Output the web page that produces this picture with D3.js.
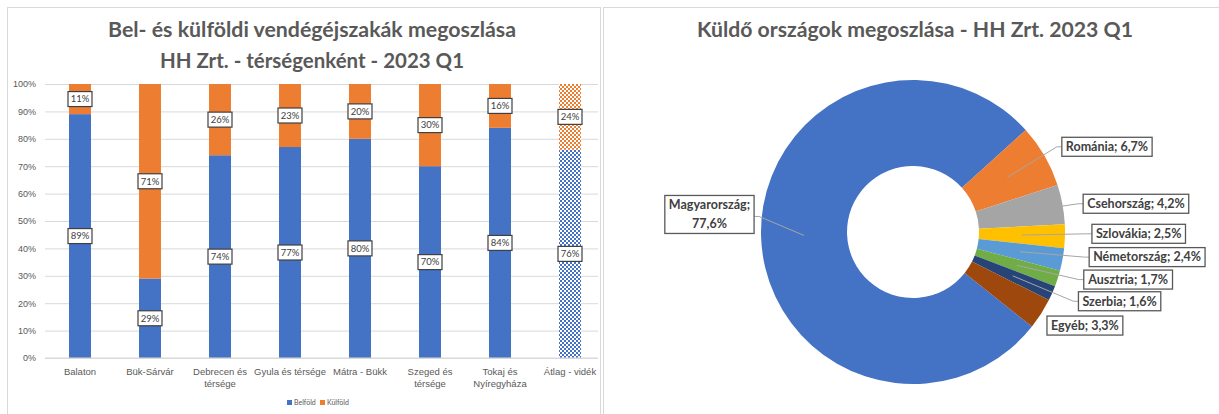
<!DOCTYPE html>
<meta charset="utf-8">
<style>
  body { margin: 0; background: #fff; }
  svg { font-family: Lato, "Open Sans", sans-serif; }
  .tick line { stroke: #d9d9d9; }
  .tick text { fill: #595959; }
</style>
<body>
<div id="chart"></div>
<script src="https://d3js.org/d3.v7.min.js"></script>
<script>

// bar chart data
var regions = ["Balaton", "Bük-Sárvár", "Debrecen és\ntérsége", "Gyula és térsége", "Mátra - Bükk",
               "Szeged és\ntérsége", "Tokaj és\nNyíregyháza", "Átlag - vidék"];
var belfold = [0.89, 0.29, 0.74, 0.77, 0.80, 0.70, 0.84, 0.76];
var kulfold = [0.11, 0.71, 0.26, 0.23, 0.20, 0.30, 0.16, 0.24];
var yTicks = [0, 0.1, 0.2, 0.3, 0.4, 0.5, 0.6, 0.7, 0.8, 0.9, 1];

// donut data
var countries = ["Magyarország", "Románia", "Csehország", "Szlovákia", "Németország", "Ausztria", "Szerbia", "Egyéb"];
var shares = [77.6, 6.7, 4.2, 2.5, 2.4, 1.7, 1.6, 3.3];
var pieColors = ["#4472c4", "#ed7d31", "#a5a5a5", "#ffc000", "#5b9bd5", "#70ad47", "#264478", "#9e480e"];

var W = 1219, H = 414;
var svg = d3.select("#chart").append("svg")
  .attr("width", W).attr("height", H);

// checkerboard patterns for the average bar
var defs = svg.append("defs");
[["chkBlue", "#4472c4"], ["chkOrange", "#ed7d31"]].forEach(function(p) {
  var pat = defs.append("pattern").attr("id", p[0])
    .attr("width", 4).attr("height", 4).attr("patternUnits", "userSpaceOnUse");
  pat.append("rect").attr("width", 4).attr("height", 4).attr("fill", "#fff");
  pat.append("rect").attr("width", 2).attr("height", 2).attr("fill", p[1]);
  pat.append("rect").attr("x", 2).attr("y", 2).attr("width", 2).attr("height", 2).attr("fill", p[1]);
});

// panel frames
svg.append("rect").attr("x", 7.5).attr("y", 7.5).attr("width", 593).attr("height", 420)
  .attr("fill", "none").attr("stroke", "#d9d9d9");
svg.append("rect").attr("x", 603.5).attr("y", 7.5).attr("width", 640).attr("height", 420)
  .attr("fill", "none").attr("stroke", "#d9d9d9");

//////////////////// left: stacked bars

var left = svg.append("g");

left.append("text").attr("x", 312).attr("y", 37)
  .attr("text-anchor", "middle").attr("font-size", 20).attr("font-weight", "bold")
  .attr("fill", "#595959").attr("textLength", 408).attr("lengthAdjust", "spacingAndGlyphs")
  .text("Bel- és külföldi vendégéjszakák megoszlása");
left.append("text").attr("x", 312).attr("y", 68)
  .attr("text-anchor", "middle").attr("font-size", 20).attr("font-weight", "bold")
  .attr("fill", "#595959").attr("textLength", 304).attr("lengthAdjust", "spacingAndGlyphs")
  .text("HH Zrt. - térségenként - 2023 Q1");

var x = d3.scaleBand()
  .domain(regions)
  .range([45, 605])
  .paddingInner(0.686)
  .paddingOuter(0.343);

var y = d3.scaleLinear().domain([0, 1]).range([358, 84]);

left.append("g")
  .attr("transform", "translate(45,0)")
  .call(d3.axisLeft(y).tickValues(yTicks).tickFormat(d3.format(".0%")).tickSize(-553).tickPadding(9))
  .call(function(g) {
    g.select(".domain").remove();
    g.selectAll(".tick text").attr("font-size", 9);
  });

var table = regions.map(function(r, i) { return {region: r, "Belföld": belfold[i], "Külföld": kulfold[i]}; });
var stack = d3.stack().keys(["Belföld", "Külföld"])(table);
var solid = {"Belföld": "#4472c4", "Külföld": "#ed7d31"};
var checker = {"Belföld": "url(#chkBlue)", "Külföld": "url(#chkOrange)"};
var last = regions[regions.length - 1];

stack.forEach(function(layer) {
  var g = left.append("g");
  g.selectAll("rect").data(layer).enter().append("rect")
    .attr("x", function(d) { return x(d.data.region); })
    .attr("y", function(d) { return y(d[1]); })
    .attr("width", x.bandwidth())
    .attr("height", function(d) { return y(d[0]) - y(d[1]); })
    .attr("fill", function(d) { return d.data.region === last ? checker[layer.key] : solid[layer.key]; });

  var lab = g.selectAll("g.lab").data(layer).enter().append("g")
    .attr("transform", function(d) {
      return "translate(" + (x(d.data.region) + x.bandwidth() / 2) + "," + y((d[0] + d[1]) / 2) + ")";
    });
  lab.append("rect").attr("x", -12).attr("y", -7.5).attr("width", 24).attr("height", 15)
    .attr("fill", "#fff").attr("stroke", "#404040").attr("stroke-width", 1.2);
  lab.append("text").attr("text-anchor", "middle").attr("dy", "0.35em")
    .attr("font-size", 9.5).attr("fill", "#404040")
    .text(function(d) { return Math.round((d[1] - d[0]) * 100) + "%"; });
});

left.append("g")
  .attr("transform", "translate(0,358)")
  .call(d3.axisBottom(x).tickSize(0).tickPadding(10))
  .call(function(g) {
    g.select(".domain").attr("stroke", "#d9d9d9").attr("d", "M45,0H598");
    g.selectAll(".tick text").each(function(d) {
      var t = d3.select(this).text("").attr("font-size", 9.5);
      d.split("\n").forEach(function(line, i) {
        t.append("tspan").attr("x", 0).attr("dy", i === 0 ? "0.71em" : "1.3em").text(line);
      });
    });
  });

var legend = left.append("g").attr("transform", "translate(287,403)");
[["Belföld", "#4472c4", 0], ["Külföld", "#ed7d31", 33]].forEach(function(l) {
  legend.append("rect").attr("x", l[2]).attr("y", -3).attr("width", 5).attr("height", 5).attr("fill", l[1]);
  legend.append("text").attr("x", l[2] + 7).attr("y", 2).attr("font-size", 7).attr("fill", "#595959").text(l[0]);
});

//////////////////// right: donut

var right = svg.append("g");
right.append("text").attr("x", 915).attr("y", 37)
  .attr("text-anchor", "middle").attr("font-size", 20).attr("font-weight", "bold")
  .attr("fill", "#595959").attr("textLength", 436).attr("lengthAdjust", "spacingAndGlyphs")
  .text("Küldő országok megoszlása - HH Zrt. 2023 Q1");

var cx = 913, cy = 232, rOuter = 152, rInner = 66;
var a0 = 128.5 * Math.PI / 180;

var pie = d3.pie().sort(null).startAngle(a0).endAngle(a0 + 2 * Math.PI)
  .value(function(d) { return d.v; });
var arcs = pie(countries.map(function(c, i) { return {name: c, v: shares[i], color: pieColors[i]}; }));

var arc = d3.arc().innerRadius(rInner).outerRadius(rOuter);
var mid = d3.arc().innerRadius(109).outerRadius(109);
var outerPt = d3.arc().innerRadius(rOuter).outerRadius(rOuter);
var labelArc = d3.arc().innerRadius(172).outerRadius(172);

var donut = right.append("g").attr("transform", "translate(" + cx + "," + cy + ")");
donut.selectAll("path").data(arcs).enter().append("path")
  .attr("d", arc).attr("fill", function(d) { return d.data.color; });

// small nudges to mimic the spreadsheet's label placement
var labelNudge = [[13, -23], [0, 1], [1, 3], [7, -3], [7, -6], [7, -5], [8, 0], [-11, 1]];
var fmt = function(v) { return v.toFixed(1).replace(".", ","); };

var lines = donut.append("g"), boxes = donut.append("g");
arcs.forEach(function(d, i) {
  var c = labelArc.centroid(d), m = mid.centroid(d), o = outerPt.centroid(d);
  var isLeft = c[0] < 0;
  var txt = isLeft ? [d.data.name + ";", fmt(d.data.v) + "%"] : [d.data.name + "; " + fmt(d.data.v) + "%"];
  var g = boxes.append("g");
  var t = g.append("text").attr("font-size", 12.5).attr("font-weight", "bold").attr("fill", "#404040")
    .attr("text-anchor", "middle");
  txt.forEach(function(s, k) {
    t.append("tspan").attr("x", 0).attr("y", (k - (txt.length - 1) / 2) * 19).attr("dy", "0.35em").text(s);
  });
  var bb = t.node().getBBox();
  var bw = bb.width + 8, bh = txt.length * 19;
  var bx = isLeft ? c[0] + labelNudge[i][0] - bw : c[0] + labelNudge[i][0];
  var by = c[1] + labelNudge[i][1];
  g.attr("transform", "translate(" + (bx + bw / 2) + "," + by + ")");
  g.insert("rect", "text").attr("x", -bw / 2).attr("y", -bh / 2).attr("width", bw).attr("height", bh)
    .attr("fill", "#fff").attr("stroke", "#595959").attr("stroke-width", 1.3);

  var ax = isLeft ? bx + bw : bx;
  if (Math.hypot(o[0] - ax, o[1] - by) > 15) {
    var ex = isLeft ? ax + 5 : ax - 5;
    lines.append("polyline")
      .attr("points", [m, [ex, by + (isLeft ? 2 : 0)], [ax, by + (isLeft ? 2 : 0)]].map(function(p) { return p.join(","); }).join(" "))
      .attr("fill", "none").attr("stroke", "#a6a6a6").attr("stroke-width", 1);
  }
});

</script>
